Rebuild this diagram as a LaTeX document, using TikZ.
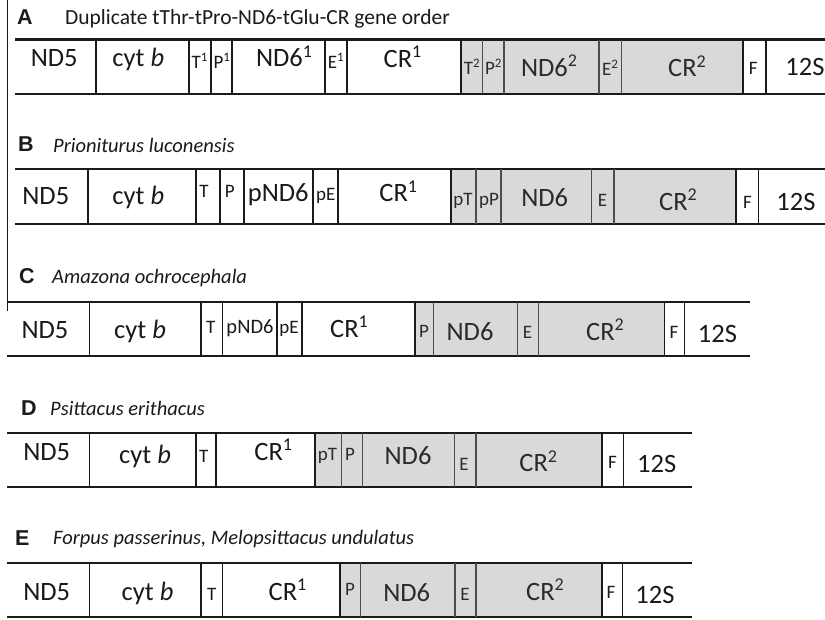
\documentclass[tikz,border=0pt]{standalone}
\usepackage{fontspec}
\setmainfont{Carlito}
\newfontfamily\hfont{Liberation Sans}
\definecolor{ink}{HTML}{1A1A1A}
\definecolor{gfill}{HTML}{D9D9D9}
\definecolor{gline}{HTML}{4D4D4D}
\definecolor{gtext}{HTML}{2B2B2B}
\newcommand\supr[1]{\raisebox{0.36em}{\fontsize{0.68em}{1em}\selectfont #1}}
\begin{document}
\begin{tikzpicture}[x=1pt,y=-1pt,
  hline/.style={line width=2.2pt, draw=ink},
  vline/.style={line width=1.6pt, draw=ink},
  gvline/.style={line width=1.4pt, draw=gline},
  lab/.style={anchor=base, inner sep=0pt, text=ink, font=\fontsize{26.5}{30}\selectfont},
  mlab/.style={anchor=base, inner sep=0pt, text=ink, font=\fontsize{20.5}{24}\selectfont},
  slab/.style={anchor=base, inner sep=0pt, text=ink, font=\fontsize{19}{22}\selectfont},
  glab/.style={lab, text=gtext},
  gslab/.style={slab, text=gtext},
  hd/.style={anchor=base west, inner sep=0pt, text=ink, font=\hfont\bfseries\fontsize{21.5}{24}\selectfont},
  ttl/.style={anchor=base west, inner sep=0pt, text=ink, font=\fontsize{21.5}{24}\selectfont},
  ittl/.style={anchor=base west, inner sep=0pt, text=ink, font=\itshape\fontsize{20.5}{24}\selectfont}]
\useasboundingbox (0,0) rectangle (825,619);
\fill[white] (0,0) rectangle (825,619);
% left vertical rule
\draw[line width=1.4pt, draw=ink] (7.5,0) -- (7.5,311);

% ---------------- Row A ----------------
\node[hd] (hA) at (17,24) {A};
\node[ttl] (tA) at (65,24) {Duplicate tThr-tPro-ND6-tGlu-CR gene order};
\fill[gfill] (461,39.5) rectangle (743,94.3);
\draw[hline] (15,39.5) -- (825,39.5);
\draw[hline] (15,94.3) -- (825,94.3);
\foreach \x in {95.7,189,211,232,325,347,461,743,765.7}
  \draw[vline] (\x,39.5) -- (\x,94.3);
\foreach \x in {482.7,504,599,621.7}
  \draw[gvline] (\x,39.5) -- (\x,94.3);
\node[lab] (aND5) at (54.2,66.7) {ND5};
\node[lab] (aCyt) at (138.3,66.7) {cyt \textit{b}};
\node[slab] (aT1) at (199.5,68.3) {T\supr{1}};
\node[slab] (aP1) at (221.7,68.3) {P\supr{1}};
\node[lab] (aND61) at (284,66.7) {ND6\supr{1}};
\node[slab] (aE1) at (335.8,68.3) {E\supr{1}};
\node[lab] (aCR1) at (402.5,67) {CR\supr{1}};
\node[gslab] (aT2) at (471.7,74) {T\supr{2}};
\node[gslab] (aP2) at (493.3,74) {P\supr{2}};
\node[glab] (aND62) at (549,76) {ND6\supr{2}};
\node[gslab] (aE2) at (610,75) {E\supr{2}};
\node[glab] (aCR2) at (687,76.7) {CR\supr{2}};
\node[slab] (aF) at (753.3,74) {F};
\node[lab] (a12S) at (805,75) {12S};

% ---------------- Row B ----------------
\node[hd] (hB) at (18,151.7) {B};
\node[ittl] (tB) at (53,152) {Prioniturus luconensis};
\fill[gfill] (451,169.3) rectangle (736,224.3);
\draw[hline] (15,169.3) -- (825,169.3);
\draw[hline] (15,224.3) -- (825,224.3);
\foreach \x in {87.7,196,220,244,313,338,451,736,758.3}
  \draw[vline] (\x,169.3) -- (\x,224.3);
\foreach \x in {476,501,591.7,614}
  \draw[gvline] (\x,169.3) -- (\x,224.3);
\node[lab] (bND5) at (45.8,204) {ND5};
\node[lab] (bCyt) at (138.3,204) {cyt \textit{b}};
\node[slab] (bT) at (204,197.7) {T};
\node[slab] (bP) at (229.7,197.7) {P};
\node[lab] (bpND6) at (278.3,201.7) {pND6};
\node[slab] (bpE) at (325.8,200) {pE};
\node[lab] (bCR1) at (398.3,201.7) {CR\supr{1}};
\node[gslab] (bpT) at (463,205) {pT};
\node[gslab] (bpP) at (489,205) {pP};
\node[glab] (bND6) at (544.7,206.7) {ND6};
\node[gslab] (bE) at (602.5,206.7) {E};
\node[glab] (bCR2) at (678,210) {CR\supr{2}};
\node[slab] (bF) at (747.5,208) {F};
\node[lab] (b12S) at (796,210) {12S};

% ---------------- Row C ----------------
\node[hd] (hC) at (19,283.3) {C};
\node[ittl] (tC) at (52,283) {Amazona ochrocephala};
\fill[gfill] (415,301.7) rectangle (664.3,356);
\draw[hline] (7,301.7) -- (750,301.7);
\draw[hline] (7,356) -- (750,356);
\foreach \x in {89.3,201,222.3,276.7,301.7,415,664.3,684.3}
  \draw[vline] (\x,301.7) -- (\x,356);
\foreach \x in {433.3,517.3,538.3}
  \draw[gvline] (\x,301.7) -- (\x,356);
\node[lab] (cND5) at (45,338.3) {ND5};
\node[lab] (cCyt) at (140,338) {cyt \textit{b}};
\node[slab] (cT) at (210.8,333) {T};
\node[mlab] (cpND6) at (250,333) {pND6};
\node[slab] (cpE) at (289,333) {pE};
\node[lab] (cCR1) at (349,337) {CR\supr{1}};
\node[gslab] (cP) at (424,337) {P};
\node[glab] (cND6) at (470,340) {ND6};
\node[gslab] (cE) at (527.5,338) {E};
\node[glab] (cCR2) at (605,340) {CR\supr{2}};
\node[slab] (cF) at (674,338) {F};
\node[lab] (c12S) at (717.5,342) {12S};

% ---------------- Row D ----------------
\node[hd] (hD) at (21,415) {D};
\node[ittl] (tD) at (50,415) {Psittacus erithacus};
\fill[gfill] (315,432.7) rectangle (601.7,486.7);
\draw[hline] (7,432.7) -- (692.3,432.7);
\draw[hline] (7,486.7) -- (692.3,486.7);
\foreach \x in {89.3,196,216,315,601.7,623.3}
  \draw[vline] (\x,432.7) -- (\x,486.7);
\foreach \x in {341.7,362.3,454.3,476}
  \draw[gvline] (\x,432.7) -- (\x,486.7);
\node[lab] (dND5) at (46.7,460) {ND5};
\node[lab] (dCyt) at (145,463) {cyt \textit{b}};
\node[slab] (dT) at (203.8,462) {T};
\node[lab] (dCR1) at (273.3,460) {CR\supr{1}};
\node[gslab] (dpT) at (327.5,460) {pT};
\node[gslab] (dP) at (350,460) {P};
\node[glab] (dND6) at (408,464) {ND6};
\node[gslab] (dE) at (464,470) {E};
\node[glab] (dCR2) at (538.3,471.7) {CR\supr{2}};
\node[slab] (dF) at (612.5,468) {F};
\node[lab] (d12S) at (656.7,472) {12S};

% ---------------- Row E ----------------
\node[hd] (hE) at (15,545) {E};
\node[ittl] (tE) at (53,544) {Forpus passerinus, Melopsittacus undulatus};
\fill[gfill] (340,562.7) rectangle (601.7,617.3);
\draw[hline] (7,562.7) -- (692.3,562.7);
\draw[hline] (7,617.3) -- (692.3,617.3);
\foreach \x in {89.3,201,222.3,340,601.7,622.3}
  \draw[vline] (\x,562.7) -- (\x,617.3);
\foreach \x in {360.7,455,476}
  \draw[gvline] (\x,562.7) -- (\x,617.3);
\node[lab] (eND5) at (46.7,600) {ND5};
\node[lab] (eCyt) at (147.5,600) {cyt \textit{b}};
\node[slab] (eT) at (211.7,600) {T};
\node[lab] (eCR1) at (287.5,600) {CR\supr{1}};
\node[gslab] (eP) at (350,595) {P};
\node[glab] (eND6) at (406.7,601.7) {ND6};
\node[gslab] (eE) at (465,600) {E};
\node[glab] (eCR2) at (545,600) {CR\supr{2}};
\node[slab] (eF) at (611,598) {F};
\node[lab] (e12S) at (655,603) {12S};
\end{tikzpicture}
\end{document}
